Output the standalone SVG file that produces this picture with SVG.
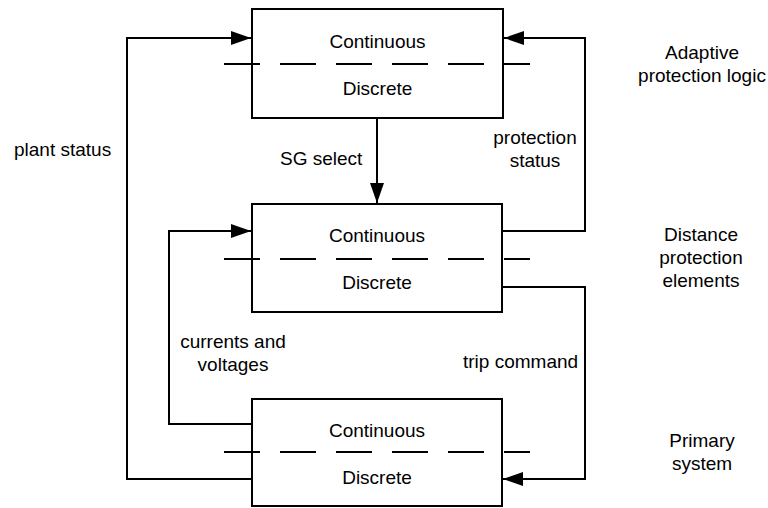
<svg xmlns="http://www.w3.org/2000/svg" width="768" height="508" viewBox="0 0 768 508">
<style>
  text { font-family: "Liberation Sans", Arial, sans-serif; font-size: 19px; fill: #000; }
  .c { text-anchor: middle; }
  .box { fill: #fff; stroke: #000; stroke-width: 2; }
  .dash { stroke: #000; stroke-width: 2; stroke-dasharray: 36 20; fill: none; }
  .wire { stroke: #000; stroke-width: 2; fill: none; }
</style>
<defs>
  <marker id="arr" markerUnits="userSpaceOnUse" markerWidth="20" markerHeight="14" refX="20" refY="7" orient="auto">
    <path d="M0,0 L20,7 L0,14 Z" fill="#000"/>
  </marker>
</defs>
<rect width="768" height="508" fill="#fff"/>
<g id="connectors">
  <polyline class="wire" points="252,479 127,479 127,38 251,38" marker-end="url(#arr)"/>
  <polyline class="wire" points="252,424 169,424 169,231 251,231" marker-end="url(#arr)"/>
  <line class="wire" x1="377" y1="118" x2="377" y2="203" marker-end="url(#arr)"/>
  <polyline class="wire" points="502,231 585,231 585,38 504,38" marker-end="url(#arr)"/>
  <polyline class="wire" points="502,287 585,287 585,479 503,479" marker-end="url(#arr)"/>
  <text x="14" y="156">plant status</text>
  <text x="280" y="165">SG select</text>
  <text class="c" x="535" y="144">protection</text>
  <text class="c" x="535" y="167">status</text>
  <text class="c" x="233" y="348">currents and</text>
  <text class="c" x="233" y="371">voltages</text>
  <text x="463" y="368">trip command</text>
</g>
<g id="adaptive">
  <rect class="box" x="252" y="9" width="251" height="109"/>
  <line class="dash" x1="224" y1="64" x2="530" y2="64"/>
  <text class="c" x="377.5" y="47.5">Continuous</text>
  <text class="c" x="377.5" y="95">Discrete</text>
</g>
<g id="distance">
  <rect class="box" x="252" y="204" width="250" height="108"/>
  <line class="dash" x1="224" y1="259" x2="530" y2="259"/>
  <text class="c" x="377" y="242">Continuous</text>
  <text class="c" x="377" y="289">Discrete</text>
</g>
<g id="primary">
  <rect class="box" x="252" y="399" width="250" height="107"/>
  <line class="dash" x1="224" y1="452" x2="530" y2="452"/>
  <text class="c" x="377" y="436.5">Continuous</text>
  <text class="c" x="377" y="484">Discrete</text>
</g>
<g id="labels">
  <text class="c" x="702" y="59">Adaptive</text>
  <text class="c" x="702" y="82">protection logic</text>
  <text class="c" x="701" y="241">Distance</text>
  <text class="c" x="701" y="264">protection</text>
  <text class="c" x="701" y="287">elements</text>
  <text class="c" x="702" y="447">Primary</text>
  <text class="c" x="702" y="470">system</text>
</g>
</svg>
